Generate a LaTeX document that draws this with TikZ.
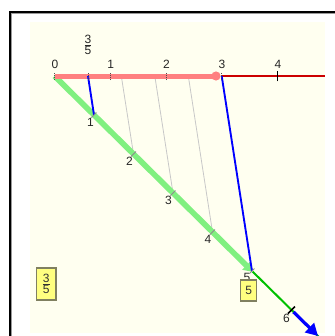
\documentclass[tikz,border=0pt]{standalone}
\usepackage{fontspec}
\setmainfont{Liberation Sans}
\usetikzlibrary{arrows.meta}
\definecolor{bgy}{HTML}{FFFFF0}
\definecolor{pinkl}{HTML}{FF8080}
\definecolor{redd}{HTML}{CC0000}
\definecolor{greenl}{HTML}{80F080}
\definecolor{greend}{HTML}{00C000}
\definecolor{boxy}{HTML}{FFFF80}
\definecolor{boxb}{HTML}{808060}
\definecolor{grayl}{HTML}{C8C8C8}
\definecolor{bluel}{HTML}{0000FF}
\begin{document}
\begin{tikzpicture}[x=0.75pt,y=-0.75pt,
  lab/.style={font=\fontsize{9}{10}\selectfont, inner sep=0pt, text=black!85},
  ybox/.style={draw=boxb, fill=boxy, line width=1.1pt, inner sep=0pt, font=\fontsize{9}{10}\selectfont, text=black!80},
  pinkline/.style={pinkl, line width=3.75pt},
  redline/.style={redd, line width=1.5pt},
  greenthick/.style={greenl, line width=4.2pt},
  greenthin/.style={greend, line width=1.5pt},
  blueline/.style={bluel, line width=1.4pt},
  grayline/.style={grayl, line width=0.6pt},
  smalltick/.style={black!70, line width=0.6pt, densely dotted},
  bigtick/.style={black, line width=1.1pt}]
\useasboundingbox (0,0) rectangle (335,336);
\fill[white] (0,0) rectangle (335,336);
% window frame
\draw[black!40, line width=0.75pt] (11.5,336) -- (11.5,13.5) -- (335,13.5);
\draw[black, line width=1.5pt] (10,336) -- (10,12) -- (335,12);
\fill[bgy] (30,22) rectangle (325,333);
% number line points
\coordinate (n0) at (54.5,76);
\coordinate (n35) at (88,76);
\coordinate (n1) at (110.2,76);
\coordinate (n65) at (121.3,76);
\coordinate (n95) at (154.8,76);
\coordinate (n2) at (166,76);
\coordinate (n125) at (188.3,76);
\coordinate (nend3) at (216,76);
\coordinate (n3) at (221.7,76);
\coordinate (n4) at (277.3,76);
\coordinate (nend) at (325,76);
% green line points
\coordinate (g1) at (94,115);
\coordinate (g2) at (133.5,154);
\coordinate (g3) at (173,193);
\coordinate (g4) at (212.5,232);
\coordinate (g5) at (252,271);
\coordinate (g6) at (291.5,310);
\coordinate (gend) at (320,338);
\coordinate (btip) at (318,336);
% gray parallels
\draw[grayline] (n65) -- (g2);
\draw[grayline] (n95) -- (g3);
\draw[grayline] (n125) -- (g4);
% green line
\draw[greenthin] (g5) -- (gend);
\draw[greenthick, -{Triangle[length=7pt,width=8.5pt]}] (n0) -- ([shift={(1,1)}]g5);
% number line
\draw[redline] (n3) -- (nend);
\draw[pinkline] (n0) -- (nend3);
\fill[pinkl] (nend3) circle (4.6);
% blue lines
\draw[blueline] (n35) -- (g1);
\draw[blueline] (n3) -- (g5);
\draw[bluel, line width=2.4pt, -{Triangle[length=9pt,width=9.5pt]}] ([shift={(2,2)}]g6) -- (btip);
% ticks
\foreach \p in {n0,n35,n1,n2,n3} \draw[smalltick] ([yshift=-3]\p) -- ([yshift=3]\p);
\draw[bigtick] ([yshift=-4]n4) -- ([yshift=4]n4);
\foreach \p in {g1,g2,g3,g4,g5} \draw[black!45, line width=0.6pt] ([shift={(2.5,-2.5)}]\p) -- ([shift={(-2.5,2.5)}]\p);
\draw[bigtick] ([shift={(3.5,-3.5)}]g6) -- ([shift={(-3.5,3.5)}]g6);
% number line labels
\node[lab] (l0) at (55,64.5) {0};
\node[lab] (l1) at (110.7,64.5) {1};
\node[lab] (l2) at (166.5,64.5) {2};
\node[lab] (l3) at (222,64.5) {3};
\node[lab] (l4) at (278,64.5) {4};
\node[lab] (lf) at (88,44.5) {$\frac{\mbox{3}}{\mbox{5}}$};
% green labels
\node[lab] (k1) at (90.5,122) {1};
\node[lab] (k2) at (129.5,161.5) {2};
\node[lab] (k3) at (168.5,200.5) {3};
\node[lab] (k4) at (208,239) {4};
\node[lab] (k5) at (247,277) {5};
\node[lab] (k6) at (286.5,318) {6};
% boxes
\node[ybox, minimum width=14.5pt, minimum height=24pt] (bf) at (46.3,284) {$\frac{\mbox{3}}{\mbox{5}}$};
\node[ybox, minimum width=12pt, minimum height=15.75pt] (b5) at (248.7,290.5) {5};
\end{tikzpicture}
\end{document}
